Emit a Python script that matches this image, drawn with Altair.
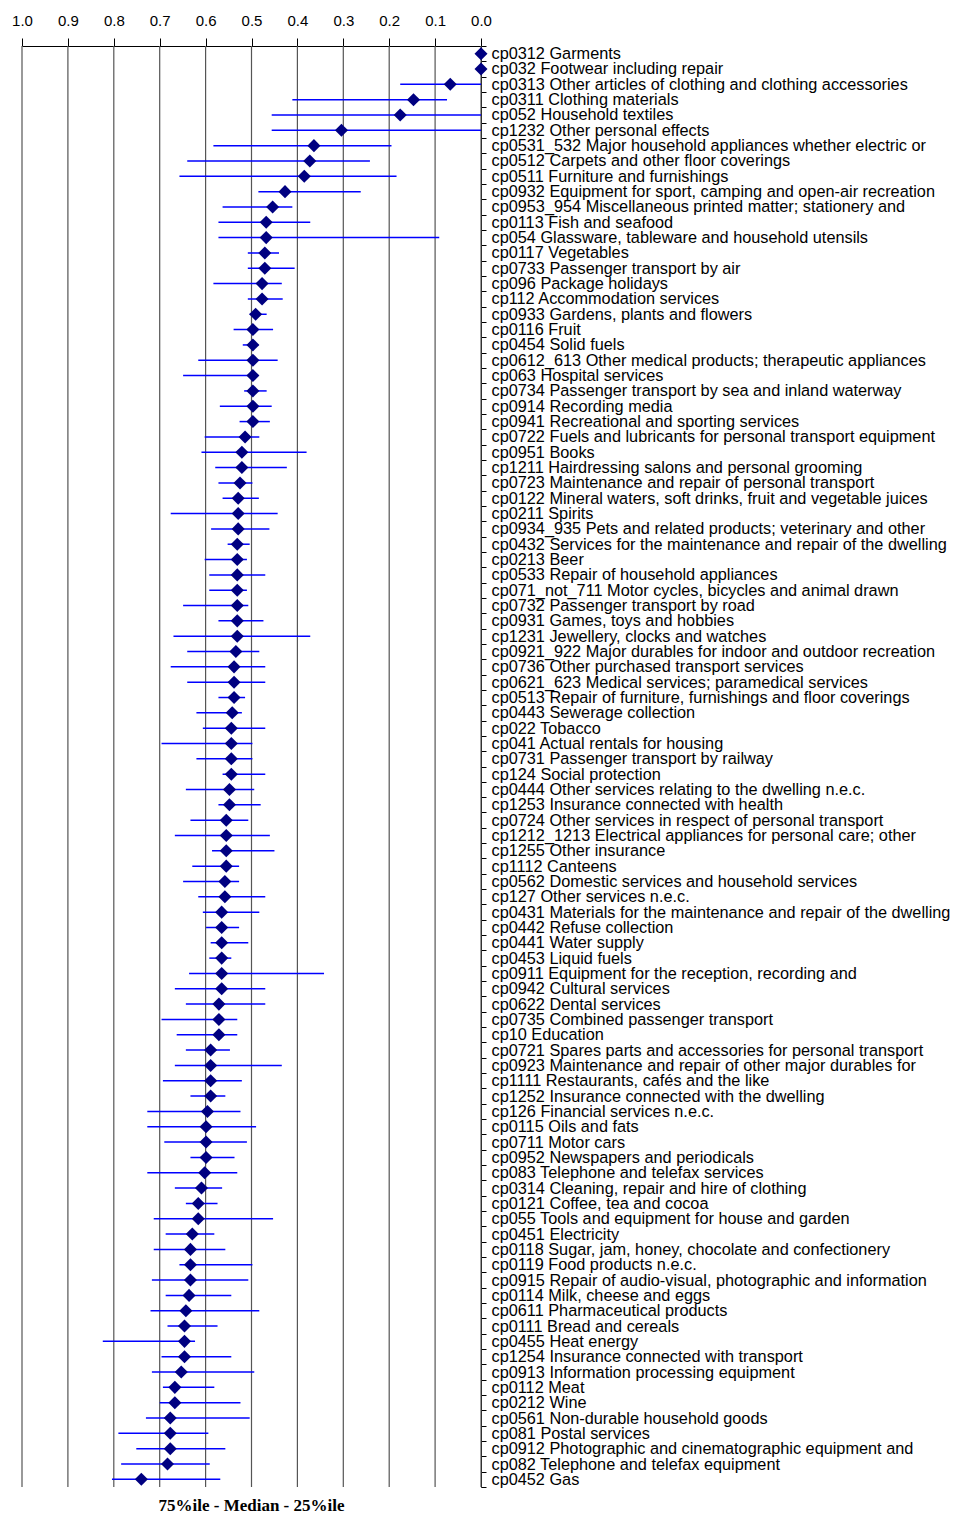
import altair as alt
import pandas as pd

categories = [
    "cp0312 Garments", "cp032 Footwear including repair",
    "cp0313 Other articles of clothing and clothing accessories", "cp0311 Clothing materials",
    "cp052 Household textiles", "cp1232 Other personal effects",
    "cp0531_532 Major household appliances whether electric or", "cp0512 Carpets and other floor coverings",
    "cp0511 Furniture and furnishings", "cp0932 Equipment for sport, camping and open-air recreation",
    "cp0953_954 Miscellaneous printed matter; stationery and", "cp0113 Fish and seafood",
    "cp054 Glassware, tableware and household utensils", "cp0117 Vegetables",
    "cp0733 Passenger transport by air", "cp096 Package holidays",
    "cp112 Accommodation services", "cp0933 Gardens, plants and flowers",
    "cp0116 Fruit", "cp0454 Solid fuels",
    "cp0612_613 Other medical products; therapeutic appliances", "cp063 Hospital services",
    "cp0734 Passenger transport by sea and inland waterway", "cp0914 Recording media",
    "cp0941 Recreational and sporting services", "cp0722 Fuels and lubricants for personal transport equipment",
    "cp0951 Books", "cp1211 Hairdressing salons and personal grooming",
    "cp0723 Maintenance and repair of personal transport", "cp0122 Mineral waters, soft drinks, fruit and vegetable juices",
    "cp0211 Spirits", "cp0934_935 Pets and related products; veterinary and other",
    "cp0432 Services for the maintenance and repair of the dwelling", "cp0213 Beer",
    "cp0533 Repair of household appliances", "cp071_not_711 Motor cycles, bicycles and animal drawn",
    "cp0732 Passenger transport by road", "cp0931 Games, toys and hobbies",
    "cp1231 Jewellery, clocks and watches", "cp0921_922 Major durables for indoor and outdoor recreation",
    "cp0736 Other purchased transport services", "cp0621_623 Medical services; paramedical services",
    "cp0513 Repair of furniture, furnishings and floor coverings", "cp0443 Sewerage collection",
    "cp022 Tobacco", "cp041 Actual rentals for housing",
    "cp0731 Passenger transport by railway", "cp124 Social protection",
    "cp0444 Other services relating to the dwelling n.e.c.", "cp1253 Insurance connected with health",
    "cp0724 Other services in respect of personal transport", "cp1212_1213 Electrical appliances for personal care; other",
    "cp1255 Other insurance", "cp1112 Canteens",
    "cp0562 Domestic services and household services", "cp127 Other services n.e.c.",
    "cp0431 Materials for the maintenance and repair of the dwelling", "cp0442 Refuse collection",
    "cp0441 Water supply", "cp0453 Liquid fuels",
    "cp0911 Equipment for the reception, recording and", "cp0942 Cultural services",
    "cp0622 Dental services", "cp0735 Combined passenger transport",
    "cp10 Education", "cp0721 Spares parts and accessories for personal transport",
    "cp0923 Maintenance and repair of other major durables for", "cp1111 Restaurants, cafés and the like",
    "cp1252 Insurance connected with the dwelling", "cp126 Financial services n.e.c.",
    "cp0115 Oils and fats", "cp0711 Motor cars",
    "cp0952 Newspapers and periodicals", "cp083 Telephone and telefax services",
    "cp0314 Cleaning, repair and hire of clothing", "cp0121 Coffee, tea and cocoa",
    "cp055 Tools and equipment for house and garden", "cp0451 Electricity",
    "cp0118 Sugar, jam, honey, chocolate and confectionery", "cp0119 Food products n.e.c.",
    "cp0915 Repair of audio-visual, photographic and information", "cp0114 Milk, cheese and eggs",
    "cp0611 Pharmaceutical products", "cp0111 Bread and cereals",
    "cp0455 Heat energy", "cp1254 Insurance connected with transport",
    "cp0913 Information processing equipment", "cp0112 Meat",
    "cp0212 Wine", "cp0561 Non-durable household goods",
    "cp081 Postal services", "cp0912 Photographic and cinematographic equipment and",
    "cp082 Telephone and telefax equipment", "cp0452 Gas",
]

median = [
    0.0, 0.0, 0.067, 0.147, 0.176, 0.304, 0.364, 0.373, 0.385, 0.427,
    0.454, 0.468, 0.468, 0.471, 0.471, 0.477, 0.477, 0.491, 0.497, 0.497,
    0.497, 0.497, 0.497, 0.497, 0.497, 0.514, 0.521, 0.521, 0.525, 0.529,
    0.529, 0.529, 0.531, 0.531, 0.531, 0.531, 0.531, 0.531, 0.531, 0.534,
    0.538, 0.538, 0.538, 0.542, 0.544, 0.544, 0.544, 0.544, 0.548, 0.548,
    0.555, 0.555, 0.555, 0.555, 0.558, 0.558, 0.565, 0.565, 0.565, 0.565,
    0.565, 0.565, 0.571, 0.571, 0.571, 0.589, 0.589, 0.589, 0.589, 0.596,
    0.599, 0.599, 0.599, 0.602, 0.609, 0.616, 0.616, 0.629, 0.633, 0.633,
    0.633, 0.636, 0.643, 0.646, 0.646, 0.646, 0.653, 0.667, 0.667, 0.677,
    0.677, 0.677, 0.683, 0.740,
]

p75 = [
    0.0, 0.0, 0.176, 0.411, 0.456, 0.456, 0.583, 0.640, 0.657, 0.485,
    0.563, 0.572, 0.572, 0.508, 0.508, 0.583, 0.508, 0.504, 0.539, 0.519,
    0.616, 0.649, 0.516, 0.569, 0.526, 0.602, 0.609, 0.579, 0.572, 0.563,
    0.676, 0.588, 0.552, 0.602, 0.592, 0.592, 0.649, 0.572, 0.670, 0.640,
    0.676, 0.640, 0.572, 0.620, 0.606, 0.696, 0.620, 0.563, 0.643, 0.572,
    0.633, 0.667, 0.586, 0.629, 0.649, 0.616, 0.606, 0.599, 0.589, 0.592,
    0.636, 0.667, 0.643, 0.696, 0.663, 0.643, 0.667, 0.693, 0.633, 0.727,
    0.727, 0.690, 0.633, 0.727, 0.667, 0.643, 0.713, 0.687, 0.713, 0.657,
    0.717, 0.687, 0.720, 0.683, 0.824, 0.696, 0.717, 0.693, 0.700, 0.730,
    0.790, 0.751, 0.784, 0.804,
]

p25 = [
    0.0, 0.0, 0.0, 0.074, 0.0, 0.0, 0.195, 0.242, 0.184, 0.262,
    0.411, 0.372, 0.091, 0.440, 0.406, 0.434, 0.432, 0.467, 0.453, 0.485,
    0.443, 0.485, 0.467, 0.456, 0.460, 0.483, 0.380, 0.423, 0.498, 0.484,
    0.443, 0.461, 0.504, 0.510, 0.470, 0.510, 0.507, 0.474, 0.372, 0.483,
    0.470, 0.470, 0.514, 0.521, 0.470, 0.498, 0.498, 0.470, 0.494, 0.480,
    0.507, 0.460, 0.450, 0.527, 0.527, 0.470, 0.483, 0.527, 0.507, 0.544,
    0.342, 0.470, 0.470, 0.531, 0.531, 0.547, 0.434, 0.521, 0.557, 0.524,
    0.490, 0.510, 0.537, 0.531, 0.564, 0.574, 0.453, 0.581, 0.557, 0.498,
    0.507, 0.544, 0.483, 0.574, 0.623, 0.544, 0.494, 0.581, 0.524, 0.504,
    0.594, 0.557, 0.591, 0.568,
]

grid_values = [1.0, 0.9, 0.8, 0.7, 0.6, 0.5, 0.4, 0.3, 0.2, 0.1, 0.0]

df = pd.DataFrame({"cat": categories, "median": median, "p75": p75, "p25": p25})
grid_df = pd.DataFrame({"v": grid_values})

xscale = alt.Scale(domain=[1.0, 0.0], nice=False)
font = "Liberation Sans"

grid = (
    alt.Chart(grid_df)
    .mark_rule(color="#555555", strokeWidth=1.2)
    .encode(
        x=alt.X(
            "v:Q", scale=xscale, title=None,
            axis=alt.Axis(
                orient="top", values=grid_values, format=".1f", grid=False,
                labelFont=font, labelFontSize=15, labelColor="black", labelPadding=10,
                tickColor="black", domainColor="black", tickSize=8, labelFlush=False,
            ),
        )
    )
)

bars = (
    alt.Chart(df)
    .mark_rule(color="#0000ff", strokeWidth=1.5)
    .encode(
        y=alt.Y(
            "cat:N",
            sort=categories,
            title=None,
            scale=alt.Scale(paddingInner=0, paddingOuter=0),
            axis=alt.Axis(
                orient="right", tickBand="extent", labelFont=font, labelFontSize=16.3,
                labelColor="black", labelPadding=5, tickSize=5, tickColor="black",
                domainColor="black", labelLimit=0,
            ),
        ),
        x=alt.X("p75:Q", scale=xscale),
        x2="p25:Q",
    )
)

points = (
    alt.Chart(df)
    .mark_point(shape="diamond", filled=True, color="#000080", size=170, opacity=1)
    .encode(y=alt.Y("cat:N", sort=categories), x=alt.X("median:Q", scale=xscale))
)

chart = (
    (grid + bars + points)
    .properties(
        width=459, height=1441,
        autosize=alt.AutoSizeParams(type="none"),
        padding={"left": 14, "top": 38, "right": 478, "bottom": 32},
        title=alt.TitleParams(
            "75%ile - Median - 25%ile", orient="bottom", anchor="middle",
            font="Liberation Serif", fontSize=17, fontWeight="bold", color="black", offset=10,
        ),
    )
    .configure_view(stroke=None)
)

chart.save("out.html", embed_options={"renderer": "svg", "actions": False})
